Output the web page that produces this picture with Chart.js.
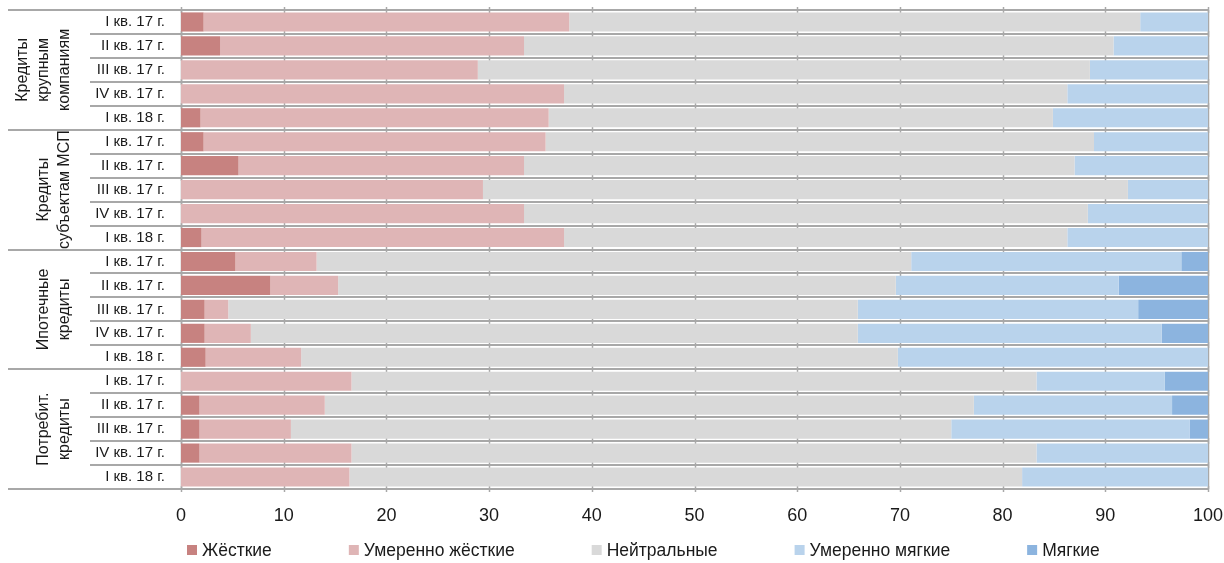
<!DOCTYPE html>
<html><head><meta charset="utf-8">
<script src="https://cdn.jsdelivr.net/npm/chart.js@4/dist/chart.umd.min.js"></script>
<style>html,body{margin:0;padding:0;background:#fff}#wrap{width:1224px;height:563px}</style>
</head><body><div id="wrap"><canvas id="c" width="1224" height="563"></canvas></div>
<script>
const groups = ["Кредиты\nкрупным\nкомпаниям", "Кредиты\nсубъектам МСП", "Ипотечные\nкредиты", "Потребит.\nкредиты"];
const quarters = ["I кв. 17 г.", "II кв. 17 г.", "III кв. 17 г.", "IV кв. 17 г.", "I кв. 18 г."];
const categories = [].concat(quarters, quarters, quarters, quarters);
const seriesNames = ["Жёсткие", "Умеренно жёсткие", "Нейтральные", "Умеренно мягкие", "Мягкие"];
const tight = [2.2, 3.8, 0, 0, 1.9, 2.2, 5.6, 0, 0, 2.0, 5.3, 8.7, 2.3, 2.3, 2.4, 0, 1.8, 1.8, 1.8, 0];
const modTight = [35.6, 29.6, 28.9, 37.3, 33.9, 33.3, 27.8, 29.4, 33.4, 35.3, 7.9, 6.6, 2.3, 4.5, 9.3, 16.6, 12.2, 8.9, 14.8, 16.4];
const neutral = [55.6, 57.4, 59.6, 49.0, 49.1, 53.4, 53.6, 62.8, 54.9, 49.0, 57.9, 54.3, 61.3, 59.1, 58.1, 66.7, 63.2, 64.3, 66.7, 65.5];
const modSoft = [6.6, 9.2, 11.5, 13.7, 15.1, 11.1, 13.0, 7.8, 11.7, 13.7, 26.3, 21.7, 27.3, 29.6, 30.2, 12.5, 19.3, 23.2, 16.7, 18.1];
const soft = [0, 0, 0, 0, 0, 0, 0, 0, 0, 0, 2.6, 8.7, 6.8, 4.5, 0, 4.2, 3.5, 1.8, 0, 0];
const xTicks = [0, 10, 20, 30, 40, 50, 60, 70, 80, 90, 100];

const colors = ["#c78280", "#dfb5b6", "#d9d9d9", "#b9d3ec", "#8cb4df"];
const FONT = "'Liberation Sans', Arial, sans-serif";
const LINE = "#a8a8a8";
const TEXT = "#1a1a1a";

const values = [tight, modTight, neutral, modSoft, soft];
const datasets = seriesNames.map((n, i) => ({
  label: n, data: values[i], backgroundColor: colors[i], borderWidth: 0,
  barPercentage: 0.8, categoryPercentage: 1.0
}));

const decor = {
  id: 'decor',
  beforeDatasetsDraw(chart) {
    const ctx = chart.ctx, ca = chart.chartArea, ys = chart.scales.y, xs = chart.scales.x;
    const n = categories.length;
    const step = (ys.getPixelForValue(1) - ys.getPixelForValue(0));
    ctx.save();
    ctx.strokeStyle = LINE;
    ctx.lineWidth = 2;
    for (let i = 0; i <= n; i++) {
      const y = Math.round(ys.getPixelForValue(i) - step / 2);
      const isGroup = i % quarters.length === 0;
      ctx.beginPath();
      ctx.moveTo(isGroup ? 8 : 90, y);
      ctx.lineTo(ca.right, y);
      ctx.stroke();
    }
    ctx.lineWidth = 1.5;
    for (let i = 0; i <= n; i++) {
      const y = Math.round(ys.getPixelForValue(i) - step / 2);
      xTicks.forEach(v => {
        const x = Math.round(xs.getPixelForValue(v)) + 0.5;
        ctx.beginPath(); ctx.moveTo(x, y - 3); ctx.lineTo(x, y + 3); ctx.stroke();
      });
    }
    const top = Math.round(ys.getPixelForValue(0) - step / 2);
    const bot = Math.round(ys.getPixelForValue(n - 1) + step / 2);
    [ca.left, ca.right].forEach(x => {
      ctx.beginPath(); ctx.moveTo(Math.round(x) + 0.5, top); ctx.lineTo(Math.round(x) + 0.5, bot); ctx.stroke();
    });
    ctx.restore();
  },
  afterDraw(chart) {
    const ctx = chart.ctx, ys = chart.scales.y;
    const step = (ys.getPixelForValue(1) - ys.getPixelForValue(0));
    ctx.save();
    ctx.fillStyle = TEXT;
    ctx.font = "16px " + FONT;
    ctx.textAlign = "center";
    ctx.textBaseline = "middle";
    const lh = 21;
    const lastX = 65;
    groups.forEach((g, gi) => {
      const lines = g.split("\n");
      const y0 = ys.getPixelForValue(gi * quarters.length) - step / 2;
      const y1 = ys.getPixelForValue(gi * quarters.length + quarters.length - 1) + step / 2;
      const cy = (y0 + y1) / 2;
      ctx.save();
      ctx.translate(lastX, cy);
      ctx.rotate(-Math.PI / 2);
      lines.forEach((l, li) => {
        ctx.fillText(l, 0, -(lines.length - 1 - li) * lh);
      });
      ctx.restore();
    });
    ctx.font = "17.5px " + FONT;
    ctx.textAlign = "left";
    let x = 187;
    const yc = 550;
    chart.data.datasets.forEach(ds => {
      ctx.fillStyle = ds.backgroundColor;
      ctx.fillRect(x, yc - 5, 10, 10);
      ctx.fillStyle = TEXT;
      ctx.fillText(ds.label, x + 15, yc + 1);
      x += 15 + ctx.measureText(ds.label).width + 77;
    });
    ctx.restore();
  }
};

function zeroPad(s) { s.paddingLeft = 0; s.paddingRight = 0; s.paddingTop = 0; s.paddingBottom = 0; }

new Chart(document.getElementById('c'), {
  type: 'bar',
  data: { labels: categories, datasets },
  options: {
    indexAxis: 'y',
    responsive: false,
    animation: false,
    layout: { padding: { top: 10, right: 16, bottom: 40, left: 0 } },
    plugins: { legend: { display: false }, tooltip: { enabled: false } },
    scales: {
      x: {
        stacked: true, min: 0, max: 100,
        afterBuildTicks(s) { s.ticks = xTicks.map(v => ({ value: v })); },
        afterFit(s) { s.height = 34; zeroPad(s); },
        grid: { display: false, drawTicks: false },
        border: { display: false },
        ticks: { padding: 16, color: TEXT, font: { family: FONT, size: 18 }, maxRotation: 0 }
      },
      y: {
        stacked: true,
        afterFit(s) { s.width = 181; zeroPad(s); },
        grid: { display: false, drawTicks: false },
        border: { display: false },
        ticks: { padding: 16, color: TEXT, font: { family: FONT, size: 15 }, autoSkip: false }
      }
    }
  },
  plugins: [decor]
});
</script></body></html>
